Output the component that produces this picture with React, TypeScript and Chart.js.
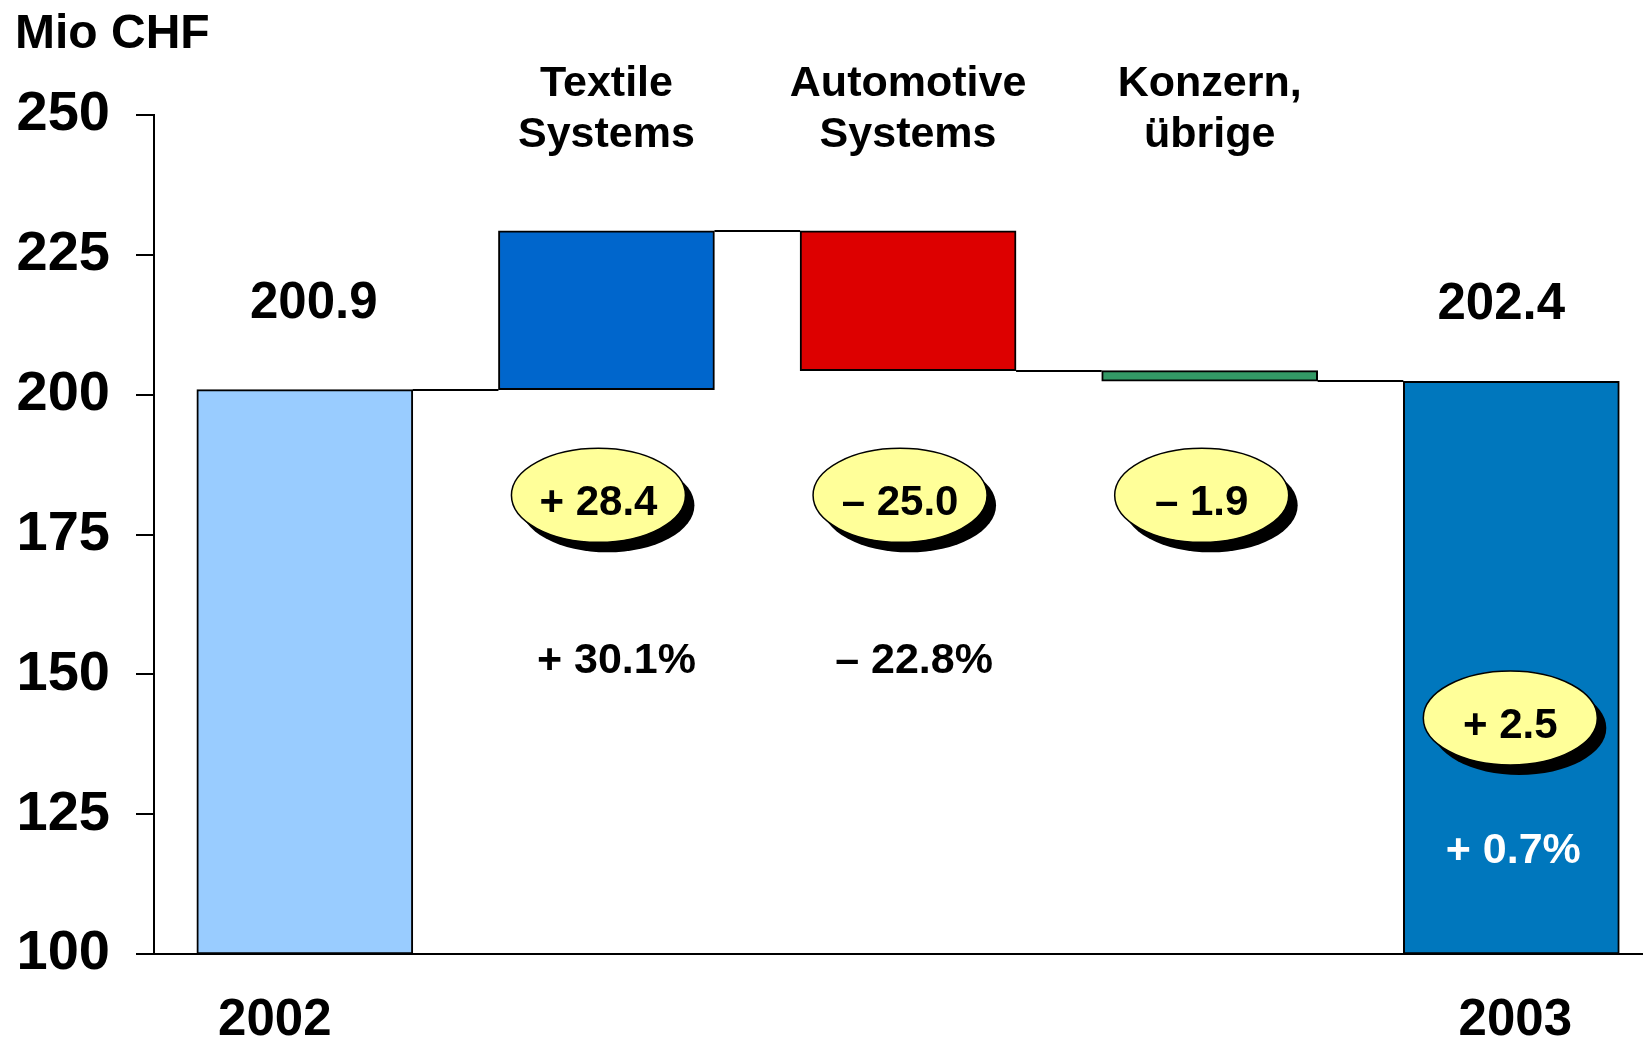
import React, { useEffect, useRef } from 'react';
import { Chart, registerables } from 'chart.js';

Chart.register(...registerables);

// ---------- data ----------
const categories = ['2002', 'Textile Systems', 'Automotive Systems', 'Konzern, übrige', '2003'];
const headerLines: string[][] = [[], ['Textile', 'Systems'], ['Automotive', 'Systems'], ['Konzern,', 'übrige'], []];
const axisBase = 100;
const startValue = 200.9;
const deltas = [28.4, -25.0, -1.9];
const endValue = 202.4;
const deltaLabels = ['+ 28.4', '– 25.0', '– 1.9'];
const totalDeltaLabel = '+ 2.5';
const percentLabels = ['+ 30.1%', '– 22.8%'];
const totalPercentLabel = '+ 0.7%';
const yearLabels = ['2002', '2003'];
const yTicks = [100, 125, 150, 175, 200, 225, 250];
const barColors = ['#99CCFF', '#0066CC', '#DD0000', '#339966', '#0077BD'];

// floating bar ranges built from the data
const ranges: number[][] = [];
const levels: number[] = [];
ranges.push([axisBase, startValue]);
levels.push(startValue);
let lvl = startValue;
for (const d of deltas) {
  ranges.push([lvl, lvl + d]);
  lvl = lvl + d;
  levels.push(lvl);
}
ranges.push([axisBase, endValue]);

const FONT = '"Liberation Sans", Arial, Helvetica, sans-serif';

const annotationPlugin = {
  id: 'annotations',
  afterDatasetsDraw(chart: any) {
    const ctx = chart.ctx as CanvasRenderingContext2D;
    const ys = chart.scales.y;
    const meta = chart.getDatasetMeta(0);
    ctx.save();
    ctx.strokeStyle = '#000';
    ctx.lineWidth = 2;
    for (let i = 0; i < levels.length; i++) {
      const a = meta.data[i];
      const b = meta.data[i + 1];
      if (!a || !b) continue;
      const y = Math.round(ys.getPixelForValue(levels[i]));
      ctx.beginPath();
      ctx.moveTo(a.x + a.width / 2, y);
      ctx.lineTo(b.x - b.width / 2, y);
      ctx.stroke();
    }
    ctx.restore();
  },
  afterDraw(chart: any) {
    const ctx = chart.ctx as CanvasRenderingContext2D;
    const xs = chart.scales.x;
    const ys = chart.scales.y;
    const cx = (i: number) => xs.getPixelForValue(i);
    ctx.save();
    ctx.fillStyle = '#000';
    ctx.textBaseline = 'alphabetic';

    ctx.textAlign = 'left';
    ctx.font = `bold 48px ${FONT}`;
    ctx.fillText('Mio CHF', 15, 48);

    ctx.textAlign = 'center';
    ctx.font = `bold 43px ${FONT}`;
    headerLines.forEach((lines, i) => {
      lines.forEach((t, j) => ctx.fillText(t, cx(i), 96 + j * 51));
    });

    ctx.font = `bold 51px ${FONT}`;
    ctx.fillText(startValue.toFixed(1), cx(0) + 9, 318);
    ctx.fillText(endValue.toFixed(1), cx(4) - 10, 319);

    ctx.fillText(yearLabels[0], cx(0) - 30, 1035);
    ctx.fillText(yearLabels[1], cx(4) + 4, 1035);

    const drawBubble = (x: number, y: number, text: string) => {
      const rx = 87, ry = 47;
      ctx.fillStyle = '#000';
      ctx.beginPath();
      ctx.ellipse(x + 9, y + 10, rx, ry, 0, 0, Math.PI * 2);
      ctx.fill();
      ctx.fillStyle = '#FFFF99';
      ctx.beginPath();
      ctx.ellipse(x, y, rx, ry, 0, 0, Math.PI * 2);
      ctx.fill();
      ctx.strokeStyle = '#000';
      ctx.lineWidth = 1.5;
      ctx.stroke();
      ctx.fillStyle = '#000';
      ctx.font = `bold 42px ${FONT}`;
      ctx.textAlign = 'center';
      ctx.fillText(text, x, y + 20);
    };
    deltaLabels.forEach((t, k) => drawBubble(cx(k + 1) - 8, ys.getPixelForValue(182), t));
    drawBubble(cx(4) - 1, ys.getPixelForValue(142.2), totalDeltaLabel);

    ctx.font = `bold 43px ${FONT}`;
    ctx.fillStyle = '#000';
    ctx.fillText(percentLabels[0], cx(1) + 10, ys.getPixelForValue(150.2));
    ctx.fillText(percentLabels[1], cx(2) + 6, ys.getPixelForValue(150.2));
    ctx.fillStyle = '#FFFFFF';
    ctx.fillText(totalPercentLabel, cx(4) + 2, ys.getPixelForValue(116.3));

    ctx.restore();
  },
};

export default function App() {
  const ref = useRef<HTMLCanvasElement>(null);
  useEffect(() => {
    if (!ref.current) return;
    const chart = new Chart(ref.current, {
      type: 'bar',
      data: {
        labels: categories,
        datasets: [
          {
            data: ranges.map((r, i) => ({ x: i, y: r })) as any,
            backgroundColor: barColors,
            borderColor: '#000',
            borderWidth: 2,
            borderSkipped: false,
            barThickness: 216,
            grouped: false,
          } as any,
        ],
      },
      options: {
        responsive: false,
        animation: false,
        devicePixelRatio: 1,
        layout: { padding: { left: 0, right: 0, top: 115, bottom: 87 } },
        plugins: { legend: { display: false }, tooltip: { enabled: false } },
        scales: {
          x: {
            type: 'linear',
            offset: false,
            min: -0.5,
            max: 4.4366,
            ticks: { display: false },
            grid: { display: false, drawTicks: false, offset: false },
            border: { display: true, color: '#000', width: 2 },
          },
          y: {
            type: 'linear',
            min: 100,
            max: 250,
            afterFit: (scale: any) => {
              scale.width = 154;
            },
            afterBuildTicks: (scale: any) => {
              scale.ticks = yTicks.map((v) => ({ value: v }));
            },
            ticks: {
              color: '#000',
              padding: 26,
              font: { family: FONT, size: 56, weight: 'bold' },
            },
            grid: {
              drawOnChartArea: false,
              drawTicks: true,
              tickLength: 18,
              color: '#000',
              lineWidth: 2,
            },
            border: { display: true, color: '#000', width: 2 },
          },
        },
      } as any,
      plugins: [annotationPlugin],
    });
    return () => chart.destroy();
  }, []);
  return (
    <div style={{ position: 'fixed', left: 0, top: 0, width: 1643, height: 1041, background: '#fff' }}>
      <canvas ref={ref} width={1643} height={1041} style={{ display: 'block', width: 1643, height: 1041 }} />
    </div>
  );
}
